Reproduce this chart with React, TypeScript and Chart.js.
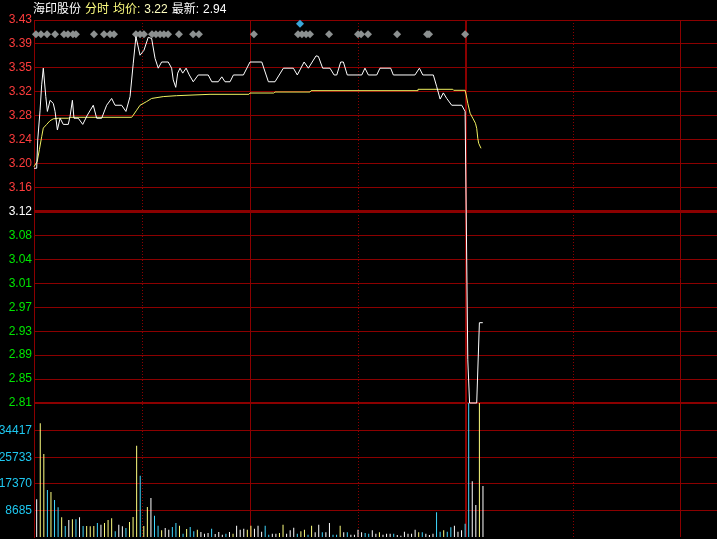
import React, { useEffect, useRef } from 'react';
import { Chart, registerables } from 'chart.js';

Chart.register(...registerables);

// ---- text ----
const titleSegments: [string, string][] = [
  ['海印股份', '#ffffff'],
  ['分时', '#ffff80'],
  ['均价:', '#ffff80'],
  ['3.22', '#ffffc0'],
  ['最新:', '#ffffff'],
  ['2.94', '#ffffff'],
];

// ---- axes ----
const PRICE_MIN = 2.81;
const PRICE_MAX = 3.43;
const priceTickLabels = ['3.43', '3.39', '3.35', '3.32', '3.28', '3.24', '3.20', '3.16', '3.12', '3.08', '3.04', '3.01', '2.97', '2.93', '2.89', '2.85', '2.81'];
const VOLUME_MAX = 43425;
const volumeTickValues = [8685, 17370, 25733, 34417];
const volumeTickLabels = ['8685', '17370', '25733', '34417'];
const DAY_SLOTS = 242; // minute slots per trading day
const X_MAX = 382.6;
const solidTimeTicks = [121, 242, 362];
const dottedTimeTicks = [61, 181.5, 302];

// ---- price line: [slot, price] ----
const priceLine: [number, number][] = [
  [0, 3.19], [1.5, 3.19], [2.1, 3.236], [3.4, 3.284], [4.3, 3.325], [5.2, 3.352], [6.6, 3.306], [7.5, 3.282],
  [9.0, 3.300], [10.8, 3.295], [11.8, 3.282], [13.1, 3.252], [14.6, 3.271], [16.4, 3.261], [19.2, 3.261],
  [20.2, 3.274], [21.5, 3.300], [22.4, 3.271], [24.8, 3.271], [27.3, 3.261], [29.9, 3.276], [33.2, 3.292],
  [35.1, 3.271], [37.9, 3.271], [40.7, 3.292], [43.5, 3.303], [45.4, 3.292], [49.1, 3.292], [51.5, 3.282],
  [53.8, 3.306], [55.6, 3.360], [57.1, 3.403], [59.4, 3.373], [61.6, 3.381], [64.0, 3.402], [65.9, 3.400],
  [67.8, 3.368], [69.6, 3.352], [71.5, 3.362], [75.2, 3.362], [77.1, 3.352], [78.0, 3.333], [79.4, 3.321],
  [80.5, 3.344], [81.8, 3.352], [83.3, 3.344], [85.2, 3.352], [87.0, 3.341], [89.2, 3.330], [92.0, 3.341],
  [97.6, 3.341], [99.6, 3.330], [103.2, 3.330], [105.2, 3.338], [107.0, 3.330], [109.8, 3.330], [111.7, 3.341],
  [117.3, 3.341], [121.0, 3.362], [127.6, 3.362], [131.3, 3.330], [135.0, 3.330], [139.7, 3.352], [145.3, 3.352],
  [147.5, 3.341], [151.3, 3.362], [153.7, 3.352], [158.0, 3.372], [159.3, 3.371], [161.7, 3.352], [165.8, 3.352],
  [168.1, 3.341], [169.6, 3.341], [171.8, 3.362], [173.3, 3.362], [175.5, 3.341], [183.6, 3.341], [185.4, 3.352],
  [187.3, 3.341], [192.0, 3.341], [193.8, 3.352], [199.8, 3.352], [201.3, 3.341], [213.4, 3.341], [215.9, 3.352],
  [217.8, 3.341], [223.7, 3.341], [225.6, 3.322], [227.5, 3.302], [229.3, 3.312], [231.2, 3.303], [234.0, 3.292],
  [239.6, 3.292], [241.5, 3.282], [243.0, 2.88], [244.0, 2.81], [248.0, 2.81], [249.5, 2.94], [251.4, 2.94],
];

// ---- average price line: [slot, price] ----
const avgLine: [number, number][] = [
  [0, 3.1925], [1.8, 3.201], [3.0, 3.220], [4.3, 3.241], [5.2, 3.255], [7.1, 3.261], [9.0, 3.267], [10.8, 3.270],
  [13.6, 3.271], [19.2, 3.271], [20.2, 3.2725], [54.7, 3.2725], [55.6, 3.276], [57.5, 3.284], [59.4, 3.292],
  [63.1, 3.298], [65.9, 3.303], [72.4, 3.306], [79.9, 3.3075], [98.6, 3.3097], [120.4, 3.3097], [121, 3.3118],
  [134.3, 3.3118], [135, 3.3134], [154.6, 3.3134], [155.2, 3.3156], [214.6, 3.3156], [215.1, 3.3178],
  [234.6, 3.3178], [235.1, 3.3162], [241.5, 3.3162], [242.1, 3.3086], [243.0, 3.2951], [244.3, 3.279],
  [245.8, 3.271], [247.3, 3.2628], [248.0, 3.2547], [248.6, 3.2385], [249.1, 3.2304], [250.4, 3.2223],
];

// ---- volume, one bar per two minutes ----
const volumes = [
  12215, 36840, 26890, 15230, 14580, 11990, 9620, 6380, 3560, 5510,
  5730, 5730, 6380, 3560, 3560, 3470, 3560, 4540, 3990, 4540,
  5510, 6060, 1850, 3990, 3470, 2920, 4860, 6480, 29580, 19860,
  3560, 9720, 12640, 6900, 3660, 2170, 2920, 2370, 3240, 4540,
  3660, 1070, 2590, 3240, 1850, 2370, 1620, 1070, 1300, 2690,
  970, 1620, 750, 1070, 1620, 1070, 3660, 2370, 2690, 2370,
  3660, 2690, 3660, 1720, 3660, 750, 1070, 1070, 1300, 3990,
  1070, 2170, 3010, 1070, 1850, 2370, 750, 3660, 1520, 3990,
  1520, 1520, 4540, 750, 750, 3660, 1520, 1520, 750, 750,
  2370, 1520, 1300, 1070, 2170, 1070, 1520, 750, 1070, 1070,
  1070, 650, 420, 1720, 1070, 1070, 2370, 1520, 1520, 1070,
  650, 1070, 8000, 1720, 2170, 1720, 3140, 3660, 1720, 2170,
  4310, 95000, 18050, 10370, 88000, 16520,
];
// w = unchanged, y = up tick, c = down tick
const volumeKinds = (
  'wyycyccycw' + 'ycwcyyycwy' + 'yycwwcyyyc' + 'yywccywwcc' + 'ycyccywwwc' +
  'wwwcwywwwy' + 'ywwwccwwyy' + 'wwwcyycyww' + 'cwwccywcww' + 'wwccwwywww' +
  'cwwwwwwycw' + 'wwccyccwww' + 'ccwwyw'
).split('');
const kindColors: Record<string, string> = { w: '#ffffff', y: '#ffff80', c: '#40d8ff' };

// ---- event markers ----
const markerSlots = [1.1, 3.9, 7.3, 11.8, 16.8, 19.0, 21.8, 23.5, 33.6, 39.2, 42.6, 44.8, 57.1, 59.4, 61.6, 66.1, 68.3, 70.6, 72.8, 75.1, 81.2, 89.1, 92.4, 123.2, 147.9, 150.1, 152.4, 154.6, 165.3, 181.5, 183.2, 187.1, 203.4, 220.2, 221.3, 241.5];
const MARKER_PRICE = 3.407;
const blueMarkerSlots = [149.0];
const BLUE_MARKER_PRICE = 3.424;

const GRID = '#8b0000';
const FONT = { family: '"Liberation Sans", Arial, sans-serif', size: 12 };

const titlePlugin = {
  id: 'titleSegments',
  afterDraw(chart: any) {
    const ctx = chart.ctx;
    ctx.save();
    ctx.font = '12px "Liberation Sans", "Noto Sans CJK SC", sans-serif';
    ctx.textBaseline = 'middle';
    ctx.textAlign = 'left';
    let x = 33;
    for (const [text, color] of titleSegments) {
      ctx.fillStyle = color;
      ctx.fillText(text, x, 10);
      x += ctx.measureText(text).width + 4;
    }
    ctx.restore();
  },
};

export default function App() {
  const ref = useRef<HTMLCanvasElement | null>(null);

  useEffect(() => {
    if (!ref.current) return;
    const priceStep = (PRICE_MAX - PRICE_MIN) / (priceTickLabels.length - 1);
    const chart = new Chart(ref.current, {
      type: 'line',
      data: {
        datasets: [
          {
            type: 'line',
            data: priceLine.map(([x, y]) => ({ x, y })),
            borderColor: '#ffffff',
            borderWidth: 1,
            pointRadius: 0,
            tension: 0,
            xAxisID: 'x',
            yAxisID: 'y',
            clip: false,
          } as any,
          {
            type: 'line',
            data: avgLine.map(([x, y]) => ({ x, y })),
            borderColor: '#f0f060',
            borderWidth: 1,
            pointRadius: 0,
            tension: 0,
            xAxisID: 'x',
            yAxisID: 'y',
            clip: false,
          } as any,
          {
            type: 'line',
            data: markerSlots.map((x) => ({ x, y: MARKER_PRICE })),
            showLine: false,
            pointStyle: 'rectRot',
            pointRadius: 4,
            pointBorderWidth: 0,
            pointBackgroundColor: '#8c9090',
            pointBorderColor: '#8c9090',
            xAxisID: 'x',
            yAxisID: 'y',
            clip: false,
          } as any,
          {
            type: 'line',
            data: blueMarkerSlots.map((x) => ({ x, y: BLUE_MARKER_PRICE })),
            showLine: false,
            pointStyle: 'rectRot',
            pointRadius: 4,
            pointBorderWidth: 0,
            pointBackgroundColor: '#3aa6d8',
            pointBorderColor: '#3aa6d8',
            xAxisID: 'x',
            yAxisID: 'y',
            clip: false,
          } as any,
          {
            type: 'bar',
            data: volumes.map((v, k) => ({ x: 1.5 + 2 * k, y: v })),
            backgroundColor: volumeKinds.map((k) => kindColors[k]),
            borderWidth: 0,
            barThickness: 1,
            inflateAmount: 0,
            xAxisID: 'x',
            yAxisID: 'yv',
          } as any,
        ],
      },
      options: {
        responsive: false,
        animation: false,
        events: [],
        layout: { autoPadding: false, padding: { top: 20, bottom: 2, left: 0, right: 0 } },
        plugins: { legend: { display: false }, tooltip: { enabled: false }, title: { display: false } },
        scales: {
          x: {
            type: 'linear',
            min: 0,
            max: X_MAX,
            offset: false,
            position: 'bottom',
            ticks: { display: false },
            grid: {
              offset: false,
              drawTicks: false,
              color: GRID,
              lineWidth: (c: any) => (c.tick && c.tick.value === DAY_SLOTS ? 2 : 1),
            },
            border: { display: false },
            afterBuildTicks: (s: any) => { s.ticks = solidTimeTicks.map((value) => ({ value })); },
            afterFit: (s: any) => { s.height = 0; s.paddingLeft = 0; s.paddingRight = 0; },
          },
          x2: {
            type: 'linear',
            min: 0,
            max: X_MAX,
            offset: false,
            position: 'bottom',
            ticks: { display: false },
            grid: { offset: false, drawTicks: false, color: GRID, lineWidth: 1 },
            border: { display: false, dash: [1, 2] },
            afterBuildTicks: (s: any) => { s.ticks = dottedTimeTicks.map((value) => ({ value })); },
            afterFit: (s: any) => { s.height = 0; s.paddingLeft = 0; s.paddingRight = 0; },
          },
          y: {
            type: 'linear',
            position: 'left',
            stack: 'main',
            stackWeight: 383,
            weight: 1,
            min: PRICE_MIN,
            max: PRICE_MAX,
            bounds: 'data',
            grid: {
              drawTicks: false,
              color: GRID,
              lineWidth: (c: any) => (c.index === 8 ? 3 : c.index === 0 ? 2 : 1),
            },
            border: { color: GRID, width: 1 },
            ticks: {
              autoSkip: false,
              padding: 2,
              font: FONT,
              color: (c: any) => (c.index > 8 ? '#ff3c3c' : c.index === 8 ? '#ffffff' : '#00e600'),
              callback: (_v: any, i: number) => priceTickLabels[priceTickLabels.length - 1 - i],
            },
            afterBuildTicks: (s: any) => {
              s.ticks = priceTickLabels.map((_, i) => ({ value: PRICE_MIN + i * priceStep }));
            },
            afterFit: (s: any) => { s.width = 34; s.paddingTop = 0; s.paddingBottom = 0; },
          },
          yv: {
            type: 'linear',
            position: 'left',
            stack: 'main',
            stackWeight: 134,
            weight: 0,
            min: 0,
            max: VOLUME_MAX,
            bounds: 'data',
            grid: { drawTicks: false, color: GRID, lineWidth: 1 },
            border: { color: GRID, width: 1 },
            ticks: {
              autoSkip: false,
              padding: 2,
              font: FONT,
              color: '#1ec8f0',
              callback: (_v: any, i: number) => volumeTickLabels[i],
            },
            afterBuildTicks: (s: any) => {
              s.ticks = volumeTickValues.map((value) => ({ value }));
            },
            afterFit: (s: any) => { s.width = 34; s.paddingTop = 0; s.paddingBottom = 0; },
          },
        } as any,
      },
      plugins: [titlePlugin as any],
    });
    return () => chart.destroy();
  }, []);

  return (
    <div style={{ position: 'fixed', left: 0, top: 0, width: 717, height: 539, background: '#000', overflow: 'hidden' }}>
      <canvas ref={ref} width={717} height={539} style={{ display: 'block' }} />
    </div>
  );
}
